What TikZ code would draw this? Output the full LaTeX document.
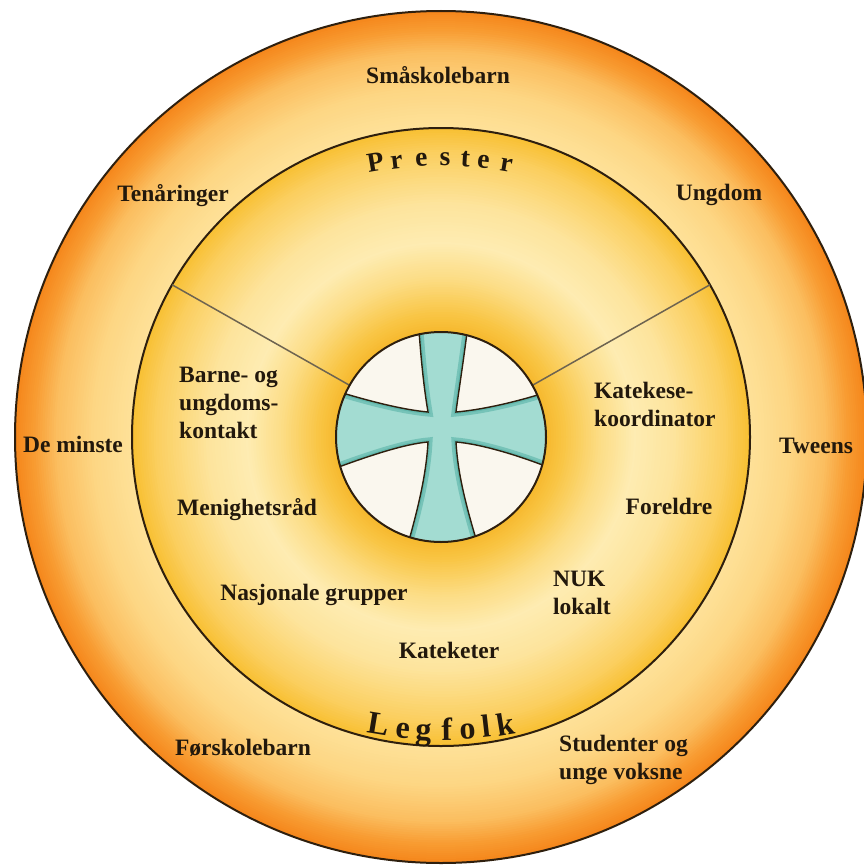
\documentclass[tikz,border=0pt]{standalone}
\usepackage{fontspec}
\setmainfont{Liberation Serif}
\definecolor{ink}{HTML}{22180C}
\definecolor{ringline}{HTML}{2E1F0E}
\definecolor{spoke}{HTML}{6E6450}
\definecolor{oA}{HTML}{F5871C}
\definecolor{oB}{HTML}{F89C32}
\definecolor{oC}{HTML}{FBBE60}
\definecolor{oD}{HTML}{FDD683}
\definecolor{oE}{HTML}{FEE29A}
\definecolor{iA}{HTML}{F8C034}
\definecolor{iB}{HTML}{FBCF60}
\definecolor{iC}{HTML}{FDE49C}
\definecolor{iD}{HTML}{FEECB2}
\definecolor{iE}{HTML}{FCDD85}
\definecolor{iF}{HTML}{F9C646}
\definecolor{iG}{HTML}{F6B82C}
\definecolor{quad}{HTML}{FAF7EE}
\definecolor{teal1}{HTML}{A3DCD2}
\definecolor{teal2}{HTML}{62B8AD}
\newcommand\gradring[5]{%
  \foreach \k in {0,...,#5}{%
    \pgfmathsetmacro\rr{#1-(#1-#2)*\k/#5}%
    \pgfmathtruncatemacro\pp{100*\k/#5}%
    \fill[#4!\pp!#3] (C) circle[radius=\rr];
  }}
\def\crosspath{(417,300) .. controls (421,370) and (426,400) .. (428,412)
 .. controls (405,410) and (370,402) .. (320,386)
 -- (320,474)
 .. controls (370,455) and (405,444) .. (428,442)
 .. controls (426,480) and (415,520) .. (402,565)
 -- (484,565)
 .. controls (470,520) and (458,480) .. (456,442)
 .. controls (480,444) and (520,455) .. (565,474)
 -- (565,386)
 .. controls (520,402) and (480,410) .. (456,412)
 .. controls (458,395) and (464,360) .. (471,300)
 -- cycle}
\begin{document}
\begin{tikzpicture}[x=1pt,y=-1pt,
  lbl/.style={font=\bfseries\fontsize{23.5}{28}\selectfont, text=ink, inner sep=0pt},
  ml/.style={lbl, align=left, anchor=west},
  prl/.style={font=\bfseries\fontsize{27.5}{30}\selectfont, text=ink, inner sep=0pt, anchor=base},
  lgl/.style={font=\bfseries\fontsize{32}{34}\selectfont, text=ink, inner sep=0pt, anchor=base},
  ring/.style={draw=ringline, line width=2pt},
  spokeline/.style={draw=spoke, line width=1.5pt}]
\useasboundingbox (0,0) rectangle (864,867);
\fill[white] (0,0) rectangle (864,867);
\coordinate (C) at (441,437);
% outer ring gradient
\gradring{426}{408}{oA}{oB}{9}
\gradring{408}{385}{oB}{oC}{10}
\gradring{385}{350}{oC}{oD}{14}
\gradring{350}{309}{oD}{oE}{14}
% inner ring gradient
\gradring{309}{285}{iA}{iB}{10}
\gradring{285}{235}{iB}{iC}{18}
\gradring{235}{195}{iC}{iD}{14}
\gradring{195}{160}{iD}{iE}{14}
\gradring{160}{125}{iE}{iF}{14}
\gradring{125}{105}{iF}{iG}{8}
\draw[ring] (C) circle[radius=426];
\draw[ring] (C) circle[radius=309];
% spokes
\coordinate (sl1) at (172.1,284.8);
\coordinate (sl2) at (349.6,385.3);
\coordinate (sr1) at (709.9,284.8);
\coordinate (sr2) at (532.4,385.3);
\draw[spokeline] (sl1) -- (sl2);
\draw[spokeline] (sr1) -- (sr2);
% centre emblem
\begin{scope}
  \clip (C) circle[radius=105];
  \fill[quad] (C) circle[radius=105];
  \fill[teal1] \crosspath;
  \begin{scope}
    \clip \crosspath;
    \draw[teal2!70!teal1, line width=9pt] \crosspath;
    \draw[teal2, line width=4pt] \crosspath;
  \end{scope}
  \draw[ringline, line width=1.4pt] \crosspath;
\end{scope}
\draw[ring] (C) circle[radius=105];
% outer ring labels
\node[lbl, anchor=base] (sma) at (438,84) {Småskolebarn};
\node[lbl, anchor=base] (ten) at (173,201) {Tenåringer};
\node[lbl, anchor=base] (ung) at (719,200) {Ungdom};
\node[lbl, anchor=base] (dem) at (73,452) {De minste};
\node[lbl, anchor=base] (twe) at (816,453) {Tweens};
\node[lbl, anchor=base] (for) at (243,755) {Førskolebarn};
\node[ml] (stu) at (559,760) {Studenter og\\unge voksne};
% inner ring labels
\node[ml] (bar) at (179,403) {Barne- og\\ungdoms-\\kontakt};
\node[ml] (kat) at (594,404) {Katekese-\\koordinator};
\node[lbl, anchor=base] (men) at (247,515) {Menighetsråd};
\node[lbl, anchor=base] (fre) at (669,514) {Foreldre};
\node[lbl, anchor=base] (nas) at (314,600) {Nasjonale grupper};
\node[ml] (nuk) at (553,593) {NUK\\lokalt};
\node[lbl, anchor=base] (kte) at (449,658) {Kateketer};
% arc titles
\coordinate (PC) at (441,546);
\foreach \ch/\a [count=\i] in {P/99.7, r/96.6, e/92.9, s/89.4, t/86.4, e/83.7, r/80.3}{
  \path (PC) ++({380*cos(\a)},{-380*sin(\a)}) node[prl, rotate=\a-90] (pr\i) {\ch};
}
\coordinate (LC) at (442,340);
\foreach \ch/\a [count=\i] in {L/260.65, e/264.26, g/267.28, f/270.72, o/273.73, l/276.46, k/279.35}{
  \path (LC) ++({400*cos(\a)},{-400*sin(\a)}) node[lgl, rotate=\a-270] (lg\i) {\ch};
}
\end{tikzpicture}
\end{document}
